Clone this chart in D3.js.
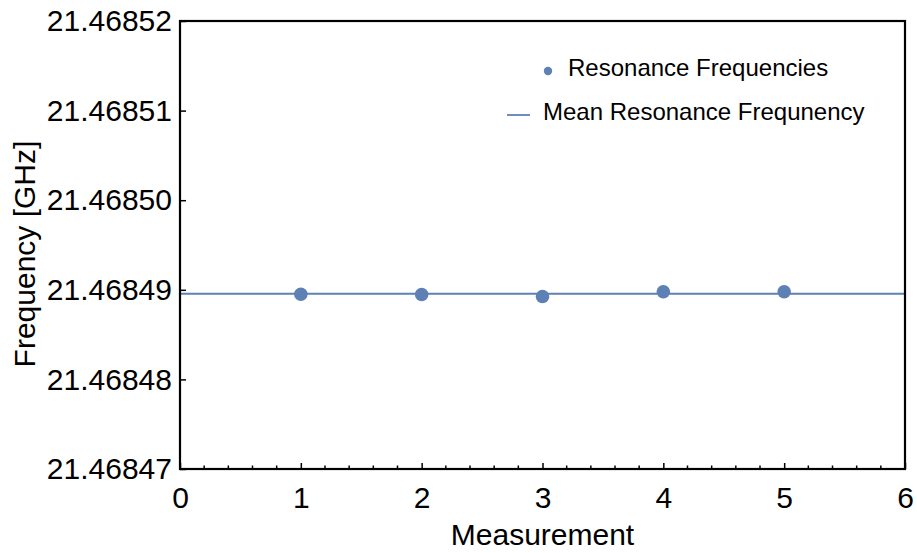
<!DOCTYPE html>
<html>
<head>
<meta charset="utf-8">
<script src="https://cdn.jsdelivr.net/npm/d3@7"></script>
<style>
  html, body { margin: 0; padding: 0; background: #fff; }
  svg { display: block; font-family: "Liberation Sans", Arial, sans-serif; }
</style>
</head>
<body>
<svg id="chart" width="917" height="553"></svg>
<script>
// Measurement index and measured resonance frequency (GHz)
const measurements = [1, 2, 3, 4, 5];
const frequencies = [21.4684895, 21.46848948, 21.46848925, 21.46848978, 21.46848978];
const xTicks = [0, 1, 2, 3, 4, 5, 6];
const yTicks = [21.46847, 21.46848, 21.46849, 21.46850, 21.46851, 21.46852];
const seriesNames = ["Resonance Frequencies", "Mean Resonance Frequnency"];

const meanFrequency = d3.mean(frequencies);
const color = "#5E81B5";

const svg = d3.select("#chart");
const margin = { left: 180, right: 12, top: 21, bottom: 84 };
const W = 917, H = 553;

const x = d3.scaleLinear().domain([0, 6]).range([margin.left, W - margin.right]);
const y = d3.scaleLinear().domain([21.46847, 21.46852]).range([H - margin.bottom, margin.top]);

// mean line
svg.append("line")
  .attr("x1", x(0)).attr("x2", x(6))
  .attr("y1", y(meanFrequency)).attr("y2", y(meanFrequency))
  .attr("stroke", color).attr("stroke-width", 1.8);

// points
svg.append("g").selectAll("circle")
  .data(measurements.map((m, i) => ({ m, f: frequencies[i] })))
  .join("circle")
  .attr("cx", d => x(d.m)).attr("cy", d => y(d.f))
  .attr("r", 6.8).attr("fill", color);

// bottom axis: major + minor ticks, inward
const xAxis = d3.axisBottom(x).tickValues(xTicks).tickFormat(d3.format("d")).tickSize(-6).tickPadding(18);
const gx = svg.append("g").attr("transform", `translate(0,${y.range()[0]})`).call(xAxis);
const minorX = d3.range(0, 6.0001, 0.2).filter(v => Math.abs(v - Math.round(v)) > 1e-6);
gx.selectAll(".minor").data(minorX).join("line")
  .attr("x1", d => x(d)).attr("x2", d => x(d)).attr("y1", 0).attr("y2", -3.5)
  .attr("stroke", "#000").attr("stroke-width", 1.5);

// left axis
const yAxis = d3.axisLeft(y).tickValues(yTicks).tickFormat(d3.format(".5f")).tickSize(-6).tickPadding(8);
const gy = svg.append("g").attr("transform", `translate(${x.range()[0]},0)`).call(yAxis);

[gx, gy].forEach(g => {
  g.select(".domain").remove();
  g.selectAll(".tick line").attr("stroke", "#000").attr("stroke-width", 1.5);
  g.selectAll(".tick text").attr("fill", "#000").style("font-size", "30px")
    .style("font-family", "'Liberation Sans', Arial, sans-serif");
});

// frame
svg.append("rect")
  .attr("x", x(0)).attr("y", y(21.46852))
  .attr("width", x(6) - x(0)).attr("height", y(21.46847) - y(21.46852))
  .attr("fill", "none").attr("stroke", "#000").attr("stroke-width", 2.2);

// axis titles
svg.append("text")
  .attr("x", (x(0) + x(6)) / 2).attr("y", 545)
  .attr("text-anchor", "middle").style("font-size", "30px")
  .text("Measurement");
svg.append("text")
  .attr("transform", `translate(35,254) rotate(-90)`)
  .attr("text-anchor", "middle").style("font-size", "30px")
  .text("Frequency [GHz]");

// legend
const legend = svg.append("g");
legend.append("circle").attr("cx", 548).attr("cy", 71).attr("r", 4.2).attr("fill", color);
legend.append("text").attr("x", 568).attr("y", 76).style("font-size", "24px").text(seriesNames[0]);
legend.append("line").attr("x1", 507).attr("x2", 530).attr("y1", 115).attr("y2", 115)
  .attr("stroke", color).attr("stroke-width", 1.8);
legend.append("text").attr("x", 543).attr("y", 120).style("font-size", "24px").text(seriesNames[1]);
</script>
</body>
</html>
